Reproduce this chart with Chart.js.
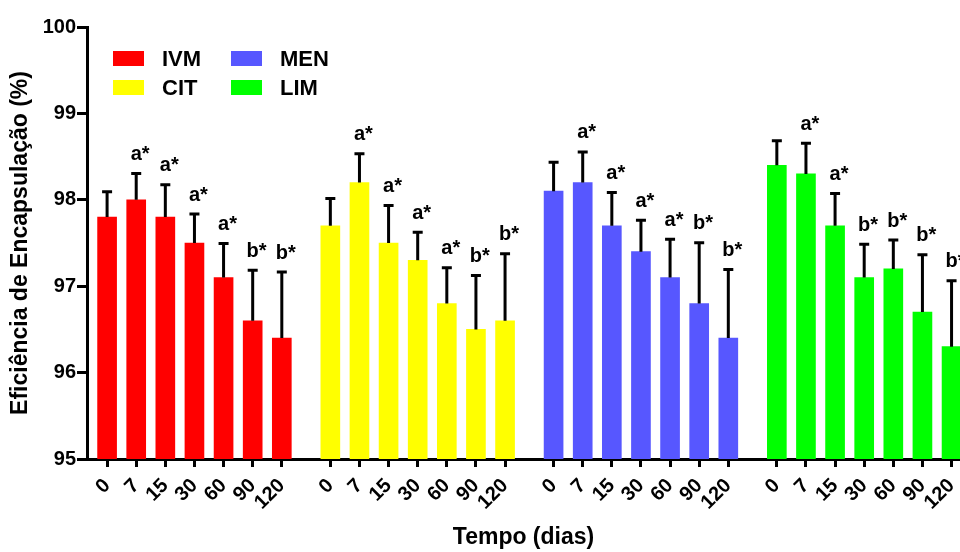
<!DOCTYPE html>
<html>
<head>
<meta charset="utf-8">
<script src="https://cdn.jsdelivr.net/npm/chart.js@4.4.1/dist/chart.umd.min.js"></script>
<style>
  html, body { margin: 0; padding: 0; background: #ffffff; }
  #wrap { width: 960px; height: 552px; }
</style>
</head>
<body>
<div id="wrap"><canvas id="chart" width="960" height="552"></canvas></div>
<script>
// Storage time (days) and the four encapsulated actives
const days = ['0', '7', '15', '30', '60', '90', '120'];
const groups = ['IVM', 'CIT', 'MEN', 'LIM'];

// Encapsulation efficiency (%) per time point
const ivmValues = [97.8, 98.0, 97.8, 97.5, 97.1, 96.6, 96.4];
const citValues = [97.7, 98.2, 97.5, 97.3, 96.8, 96.5, 96.6];
const menValues = [98.1, 98.2, 97.7, 97.4, 97.1, 96.8, 96.4];
const limValues = [98.4, 98.3, 97.7, 97.1, 97.2, 96.7, 96.3];

// Standard deviations (upper error bars)
const ivmErrors = [0.30, 0.31, 0.38, 0.34, 0.40, 0.59, 0.77];
const citErrors = [0.32, 0.34, 0.44, 0.33, 0.42, 0.63, 0.78];
const menErrors = [0.34, 0.36, 0.39, 0.37, 0.45, 0.71, 0.80];
const limErrors = [0.29, 0.36, 0.38, 0.39, 0.34, 0.67, 0.77];

// Significance letters
const ivmLetters = ['', 'a*', 'a*', 'a*', 'a*', 'b*', 'b*'];
const citLetters = ['', 'a*', 'a*', 'a*', 'a*', 'b*', 'b*'];
const menLetters = ['', 'a*', 'a*', 'a*', 'a*', 'b*', 'b*'];
const limLetters = ['', 'a*', 'a*', 'b*', 'b*', 'b*', 'b*'];

// Y axis ticks
const yTicks = [95, 96, 97, 98, 99, 100];

const seriesValues = [ivmValues, citValues, menValues, limValues];
const seriesErrors = [ivmErrors, citErrors, menErrors, limErrors];
const seriesLetters = [ivmLetters, citLetters, menLetters, limLetters];
const colors = ['#FF0000', '#FFFF00', '#5757FF', '#00FF00'];

// Each group occupies 7 slots plus a gap before the next group
const GROUP_STEP = 23 / 3;
const positions = [];
groups.forEach((g, gi) => days.forEach((d, i) => positions.push(gi * GROUP_STEP + i)));

const FONT = '"Liberation Sans", Arial, Helvetica, sans-serif';

const datasets = groups.map((name, gi) => ({
  label: name,
  data: days.map((d, i) => ({ x: gi * GROUP_STEP + i, y: seriesValues[gi][i] })),
  errors: seriesErrors[gi],
  letters: seriesLetters[gi],
  backgroundColor: colors[gi],
  borderWidth: 0,
  barThickness: 19,
  grouped: false
}));

// Upper error bars and significance letters
const errorBarPlugin = {
  id: 'errorBars',
  afterDatasetsDraw(chart) {
    const ctx = chart.ctx;
    const y = chart.scales.y;
    ctx.save();
    chart.data.datasets.forEach((ds, di) => {
      const meta = chart.getDatasetMeta(di);
      meta.data.forEach((bar, i) => {
        const v = ds.data[i].y;
        const top = y.getPixelForValue(v);
        const cap = y.getPixelForValue(v + ds.errors[i]);
        ctx.strokeStyle = '#000';
        ctx.lineWidth = 3;
        ctx.lineCap = 'butt';
        ctx.beginPath();
        ctx.moveTo(bar.x, top);
        ctx.lineTo(bar.x, cap);
        ctx.moveTo(bar.x - 5, cap + 0.5);
        ctx.lineTo(bar.x + 5, cap + 0.5);
        ctx.stroke();

        const txt = ds.letters[i];
        if (txt) {
          ctx.fillStyle = '#000';
          ctx.font = 'bold 20px ' + FONT;
          ctx.textBaseline = 'alphabetic';
          const letter = txt.slice(0, 1);
          const rest = txt.slice(1);
          const w = ctx.measureText(letter).width;
          ctx.textAlign = 'center';
          ctx.fillText(letter, bar.x, cap - 13);
          ctx.textAlign = 'left';
          ctx.fillText(rest, bar.x + w / 2, cap - 13);
        }
      });
    });
    ctx.restore();
  }
};

// Two-column legend drawn inside the plot area
const legendPlugin = {
  id: 'gridLegend',
  afterDraw(chart) {
    const ctx = chart.ctx;
    ctx.save();
    ctx.font = 'bold 22px ' + FONT;
    ctx.textBaseline = 'middle';
    ctx.textAlign = 'left';
    chart.data.datasets.forEach((ds, i) => {
      const col = Math.floor(i / 2);
      const row = i % 2;
      const bx = 113 + col * 118;
      const by = 51 + row * 29;
      ctx.fillStyle = ds.backgroundColor;
      ctx.fillRect(bx, by, 31, 15);
      ctx.fillStyle = '#000';
      ctx.fillText(ds.label, bx + 49, by + 8.5);
    });
    ctx.restore();
  }
};

new Chart(document.getElementById('chart'), {
  type: 'bar',
  data: { datasets },
  options: {
    responsive: false,
    animation: false,
    devicePixelRatio: 1,
    layout: { padding: { top: 27, right: 0, bottom: 0, left: 0 } },
    plugins: { legend: { display: false }, tooltip: { enabled: false } },
    scales: {
      x: {
        type: 'linear',
        offset: false,
        min: -0.69,
        max: 29.29,
        afterBuildTicks(scale) {
          scale.ticks = positions.map(v => ({ value: v }));
        },
        afterFit(scale) {
          scale.height = 93;
          scale.paddingLeft = 0;
          scale.paddingRight = 0;
        },
        ticks: {
          autoSkip: false,
          minRotation: 45,
          maxRotation: 45,
          padding: 7,
          color: '#000',
          font: { family: FONT, size: 20, weight: 'bold' },
          callback: (value, index) => days[index % days.length]
        },
        grid: {
          display: true,
          offset: false,
          drawOnChartArea: false,
          drawTicks: true,
          tickLength: 8,
          tickWidth: 3,
          tickColor: '#000'
        },
        border: { display: true, color: '#000', width: 3 },
        title: {
          display: true,
          text: 'Tempo (dias)',
          color: '#000',
          font: { family: FONT, size: 23, weight: 'bold' },
          padding: { top: 0, bottom: 1 }
        }
      },
      y: {
        min: 95,
        max: 100,
        afterBuildTicks(scale) {
          scale.ticks = yTicks.map(v => ({ value: v }));
        },
        afterFit(scale) {
          scale.width = 87;
          scale.paddingTop = 0;
          scale.paddingBottom = 0;
        },
        ticks: {
          padding: 1,
          color: '#000',
          font: { family: FONT, size: 20, weight: 'bold' }
        },
        grid: {
          display: true,
          drawOnChartArea: false,
          drawTicks: true,
          tickLength: 10,
          tickWidth: 3,
          tickColor: '#000'
        },
        border: { display: true, color: '#000', width: 3 },
        title: {
          display: true,
          text: 'Eficiência de Encapsulação (%)',
          color: '#000',
          font: { family: FONT, size: 23, weight: 'bold' },
          padding: { top: 7, bottom: 0 }
        }
      }
    }
  },
  plugins: [errorBarPlugin, legendPlugin]
});
</script>
</body>
</html>
